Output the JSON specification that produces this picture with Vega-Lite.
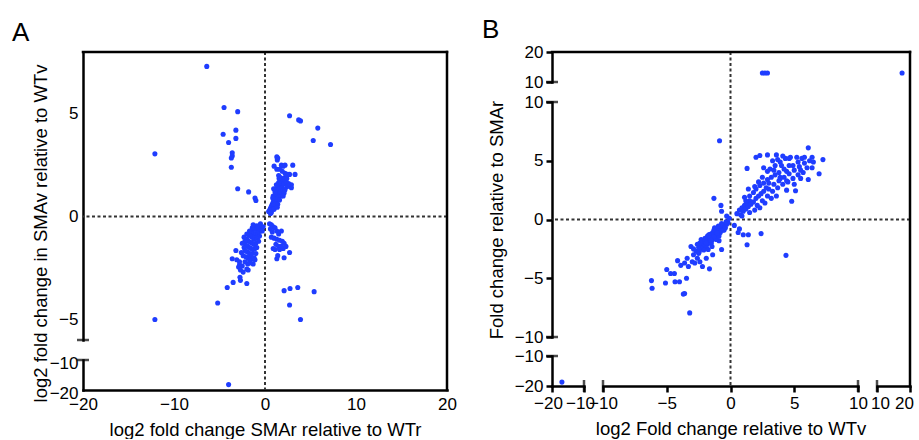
{
  "$schema": "https://vega.github.io/schema/vega-lite/v6.json",
  "padding": {"left": 12, "top": 17, "right": 5, "bottom": 0},
  "spacing": 25,
  "config": {
    "view": {"stroke": null},
    "font": "Liberation Sans",
    "axis": {"labelFont": "Liberation Sans", "titleFont": "Liberation Sans", "labelFontSize": 17, "titleFontSize": 18.5, "titleFontWeight": "normal", "labelColor": "#000", "titleColor": "#000", "domainColor": "#000", "domainWidth": 2.5, "domainCap": "square", "tickColor": "#000", "tickWidth": 2.5, "tickSize": 6, "grid": false, "labelOverlap": false, "labelFlush": false},
    "title": {"font": "Liberation Sans", "fontWeight": "normal", "fontSize": 26, "color": "#000"}
  },
  "datasets": {
    "a": [
      {"x":-6.4,"y":7.3},{"x":-4.5,"y":5.3},{"x":-3.0,"y":5.1},{"x":-4.6,"y":4.0},{"x":-3.2,"y":4.2},{"x":-4.0,"y":3.6},{"x":-3.2,"y":3.8},{"x":-3.6,"y":3.1},{"x":-3.6,"y":2.95},{"x":-3.7,"y":2.85},{"x":-3.7,"y":2.4},{"x":-12.1,"y":3.05},{"x":-3.0,"y":1.35},{"x":-1.8,"y":1.2},{"x":-1.1,"y":0.9},{"x":-1.0,"y":0.78},{"x":2.7,"y":4.9},{"x":3.7,"y":4.7},{"x":3.9,"y":4.65},{"x":5.8,"y":4.3},{"x":5.3,"y":3.7},{"x":7.2,"y":3.5},{"x":-12.1,"y":-5.0},{"x":-5.2,"y":-4.2},{"x":-4.0,"y":-18.2},{"x":2.1,"y":-3.6},{"x":2.75,"y":-3.5},{"x":3.6,"y":-3.45},{"x":5.4,"y":-3.65},{"x":2.7,"y":-4.3},{"x":3.9,"y":-5.0},{"x":-4.15,"y":-3.45},{"x":-3.5,"y":-3.2},{"x":-2.75,"y":-2.95},{"x":-2.0,"y":-3.25},{"x":-2.7,"y":-3.1},{"x":-3.6,"y":-2.05},{"x":-3.2,"y":-1.65},{"x":-2.9,"y":-2.45},{"x":-2.8,"y":-2.35},
      {"x":1.3,"y":2.9},{"x":1.35,"y":2.75},{"x":1.4,"y":2.85},{"x":1.0,"y":2.45},{"x":1.8,"y":2.5},{"x":2.0,"y":2.45},{"x":3.05,"y":2.5},{"x":3.3,"y":2.05},{"x":2.7,"y":2.05},{"x":2.2,"y":2.1},{"x":1.3,"y":2.3},{"x":1.6,"y":2.3},{"x":2.9,"y":1.55},{"x":2.9,"y":1.4},{"x":2.5,"y":1.5},{"x":2.2,"y":1.9},{"x":2.0,"y":1.85},{"x":1.9,"y":1.7},{"x":1.8,"y":1.6},{"x":1.7,"y":1.5},{"x":1.6,"y":1.4},{"x":1.5,"y":1.3},{"x":1.4,"y":1.2},{"x":1.3,"y":1.1},{"x":1.2,"y":1.0},{"x":1.1,"y":0.9},{"x":1.0,"y":0.8},{"x":0.9,"y":0.7},{"x":0.8,"y":0.6},{"x":0.7,"y":0.5},{"x":0.6,"y":0.4},{"x":0.5,"y":0.3},{"x":0.4,"y":0.25},{"x":1.9,"y":1.4},{"x":2.1,"y":1.6},{"x":2.3,"y":1.7},{"x":1.6,"y":1.1},{"x":1.5,"y":0.95},{"x":1.2,"y":0.7},{"x":1.0,"y":0.55},{"x":0.8,"y":0.35},{"x":1.7,"y":1.2},{"x":2.0,"y":1.3},{"x":2.4,"y":1.45},{"x":2.1,"y":1.15},{"x":1.3,"y":1.4},{"x":1.1,"y":1.2},{"x":0.9,"y":1.0},{"x":1.5,"y":1.65},{"x":1.7,"y":1.9},{"x":1.2,"y":0.85},{"x":0.7,"y":0.2},{"x":1.4,"y":0.6},{"x":1.8,"y":1.0},{"x":2.2,"y":1.3},{"x":2.6,"y":1.6},{"x":1.0,"y":0.35},{"x":1.6,"y":0.8},{"x":2.5,"y":2.05},{"x":2.2,"y":2.5},{"x":1.5,"y":2.0},{"x":1.9,"y":2.2},{"x":0.95,"y":1.35},{"x":1.25,"y":1.55},{"x":2.0,"y":1.0},{"x":1.35,"y":0.45},{"x":0.6,"y":0.15},{"x":0.85,"y":0.9},{"x":1.55,"y":1.85},{"x":2.4,"y":1.85},
      {"x":-0.2,"y":-0.5},{"x":-0.4,"y":-0.5},{"x":-0.6,"y":-0.55},{"x":-0.8,"y":-0.6},{"x":-1.0,"y":-0.55},{"x":-1.2,"y":-0.6},{"x":-0.5,"y":-0.7},{"x":-0.7,"y":-0.75},{"x":-0.9,"y":-0.8},{"x":-1.1,"y":-0.85},{"x":-1.3,"y":-0.8},{"x":-1.5,"y":-0.75},{"x":-0.6,"y":-0.95},{"x":-0.8,"y":-1.0},{"x":-1.0,"y":-1.05},{"x":-1.2,"y":-1.1},{"x":-1.4,"y":-1.0},{"x":-1.6,"y":-0.95},{"x":-1.8,"y":-0.9},{"x":-1.0,"y":-1.3},{"x":-1.2,"y":-1.35},{"x":-1.4,"y":-1.3},{"x":-1.6,"y":-1.25},{"x":-1.8,"y":-1.2},{"x":-2.0,"y":-1.1},{"x":-2.2,"y":-1.2},{"x":-1.1,"y":-1.55},{"x":-1.3,"y":-1.6},{"x":-1.5,"y":-1.55},{"x":-1.7,"y":-1.5},{"x":-1.9,"y":-1.45},{"x":-2.1,"y":-1.4},{"x":-2.3,"y":-1.5},{"x":-1.4,"y":-1.8},{"x":-1.6,"y":-1.85},{"x":-1.8,"y":-1.75},{"x":-2.0,"y":-1.7},{"x":-2.2,"y":-1.65},{"x":-1.2,"y":-2.0},{"x":-1.5,"y":-2.05},{"x":-1.7,"y":-2.1},{"x":-1.9,"y":-2.0},{"x":-2.1,"y":-1.95},{"x":-2.4,"y":-1.9},{"x":-1.3,"y":-2.3},{"x":-1.6,"y":-2.25},{"x":-1.9,"y":-2.3},{"x":-2.2,"y":-2.2},{"x":-2.5,"y":-2.4},{"x":-2.0,"y":-2.55},{"x":-2.7,"y":-2.6},{"x":-2.4,"y":-2.7},{"x":-0.3,"y":-0.7},{"x":-0.9,"y":-0.45},{"x":-1.4,"y":-0.55},{"x":-1.7,"y":-0.7},{"x":-2.0,"y":-0.85},{"x":-2.5,"y":-1.3},{"x":-2.6,"y":-1.75},{"x":-0.7,"y":-1.2},{"x":-0.9,"y":-1.5},{"x":-1.0,"y":-1.8},{"x":-0.5,"y":-0.35},{"x":-1.3,"y":-0.4},{"x":-2.8,"y":-2.2},{"x":-3.1,"y":-2.1},{"x":-2.3,"y":-1.0},{"x":-1.85,"y":-2.6},{"x":-1.1,"y":-2.1},
      {"x":0.5,"y":-0.35},{"x":0.7,"y":-0.4},{"x":0.9,"y":-0.5},{"x":1.1,"y":-0.55},{"x":0.6,"y":-0.6},{"x":1.3,"y":-0.7},{"x":1.8,"y":-0.7},{"x":1.5,"y":-0.85},{"x":0.7,"y":-1.0},{"x":1.0,"y":-1.05},{"x":1.3,"y":-1.1},{"x":1.6,"y":-1.15},{"x":1.9,"y":-1.2},{"x":2.1,"y":-1.3},{"x":1.2,"y":-1.35},{"x":1.5,"y":-1.45},{"x":0.9,"y":-1.55},{"x":1.1,"y":-1.6},{"x":1.6,"y":-1.6},{"x":2.0,"y":-1.55},{"x":2.7,"y":-1.75},{"x":1.3,"y":-2.05},{"x":2.1,"y":-2.0},{"x":1.4,"y":-1.9},{"x":0.8,"y":-0.75},{"x":2.3,"y":-1.45},{"x":1.8,"y":-1.45}
    ],
    "b": [
      {"x":-16.9,"y":-18.7},{"x":2.5,"y":13},{"x":2.7,"y":13},{"x":2.9,"y":13},{"x":17.6,"y":13},
      {"x":-0.86,"y":6.7},{"x":-1.3,"y":1.8},{"x":-0.75,"y":1.2},{"x":-0.7,"y":0.7},{"x":-0.3,"y":0.3},{"x":-0.1,"y":0.1},
      {"x":-6.2,"y":-5.2},{"x":-6.15,"y":-5.85},{"x":-5.1,"y":-5.4},{"x":-5.0,"y":-4.25},{"x":-4.7,"y":-4.6},{"x":-4.4,"y":-4.6},{"x":-4.0,"y":-5.3},{"x":-4.35,"y":-5.3},{"x":-3.7,"y":-6.35},{"x":-3.6,"y":-6.3},{"x":-3.2,"y":-7.95},{"x":-3.45,"y":-5.0},{"x":-4.15,"y":-3.5},{"x":-3.6,"y":-3.7},{"x":-3.4,"y":-3.3},{"x":-3.1,"y":-2.3},{"x":-2.8,"y":-3.7},{"x":-2.2,"y":-4.0},{"x":-1.65,"y":-4.2},{"x":-0.7,"y":-2.55},{"x":-3.9,"y":-3.9},{"x":-3.3,"y":-4.0},{"x":-2.6,"y":-3.3},{"x":-2.9,"y":-3.0},{"x":-3.0,"y":-3.6},{"x":-2.4,"y":-3.6},{"x":-1.9,"y":-3.3},{"x":-2.5,"y":-2.9},{"x":-1.4,"y":-3.0},{"x":-0.9,"y":-1.8},
      {"x":-2.7,"y":-2.7},{"x":-2.5,"y":-2.4},{"x":-2.3,"y":-2.2},{"x":-2.1,"y":-2.0},{"x":-1.9,"y":-1.8},{"x":-1.7,"y":-1.6},{"x":-1.5,"y":-1.4},{"x":-1.3,"y":-1.2},{"x":-1.1,"y":-1.0},{"x":-0.9,"y":-0.85},{"x":-0.7,"y":-0.7},{"x":-0.5,"y":-0.55},{"x":-0.3,"y":-0.4},{"x":-2.4,"y":-2.0},{"x":-2.2,"y":-1.8},{"x":-2.0,"y":-1.6},{"x":-1.8,"y":-1.4},{"x":-1.6,"y":-1.25},{"x":-1.4,"y":-1.1},{"x":-1.2,"y":-0.95},{"x":-1.0,"y":-0.75},{"x":-0.8,"y":-0.6},{"x":-0.6,"y":-0.45},{"x":-2.2,"y":-2.5},{"x":-2.0,"y":-2.3},{"x":-1.8,"y":-2.1},{"x":-1.6,"y":-1.9},{"x":-1.4,"y":-1.7},{"x":-1.2,"y":-1.5},{"x":-1.0,"y":-1.3},{"x":-0.8,"y":-1.1},{"x":-0.6,"y":-0.9},{"x":-2.6,"y":-2.1},{"x":-1.9,"y":-2.4},{"x":-1.5,"y":-2.0},{"x":-1.1,"y":-1.7},{"x":-0.9,"y":-1.4},{"x":-2.3,"y":-1.7},{"x":-1.7,"y":-1.3},{"x":-1.3,"y":-0.9},{"x":-0.7,"y":-0.35},{"x":-2.9,"y":-2.5},{"x":-2.0,"y":-1.9},{"x":-1.6,"y":-1.55},{"x":-1.3,"y":-1.45},{"x":-1.9,"y":-2.0},{"x":-2.1,"y":-2.6},{"x":-1.75,"y":-2.55},{"x":-1.45,"y":-2.3},{"x":-0.5,"y":-0.9},{"x":-0.4,"y":-0.7},{"x":-0.2,"y":-0.25},{"x":-0.35,"y":-0.2},{"x":-1.05,"y":-1.15},{"x":-1.55,"y":-1.75},{"x":-2.45,"y":-2.75},{"x":-0.95,"y":-0.55},{"x":-1.25,"y":-0.7},
      {"x":0.6,"y":-1.1},{"x":0.7,"y":-0.8},{"x":1.0,"y":-1.3},{"x":1.4,"y":-1.3},{"x":1.3,"y":-2.15},{"x":2.4,"y":-1.2},{"x":4.35,"y":-3.05},{"x":0.3,"y":-0.5},
      {"x":0.5,"y":0.5},{"x":0.7,"y":0.8},{"x":0.9,"y":1.0},{"x":1.1,"y":1.2},{"x":1.3,"y":1.4},{"x":1.5,"y":1.6},{"x":0.8,"y":0.4},{"x":1.0,"y":0.7},{"x":1.2,"y":0.9},{"x":1.4,"y":1.1},{"x":1.6,"y":1.3},{"x":1.8,"y":1.5},{"x":2.0,"y":1.8},{"x":2.2,"y":2.0},{"x":2.4,"y":2.2},{"x":2.6,"y":2.4},{"x":1.2,"y":1.6},{"x":1.5,"y":2.0},{"x":1.8,"y":2.3},{"x":2.0,"y":2.6},{"x":2.3,"y":2.9},{"x":2.6,"y":3.1},{"x":2.9,"y":3.4},{"x":3.2,"y":3.6},{"x":3.5,"y":3.8},{"x":3.8,"y":4.0},{"x":2.1,"y":1.2},{"x":2.5,"y":1.6},{"x":2.9,"y":2.0},{"x":3.3,"y":2.4},{"x":3.7,"y":2.7},{"x":4.1,"y":3.0},{"x":4.5,"y":3.2},{"x":4.9,"y":3.5},{"x":5.3,"y":3.8},{"x":5.7,"y":4.0},{"x":3.0,"y":2.6},{"x":3.4,"y":3.0},{"x":3.8,"y":3.3},{"x":4.2,"y":3.6},{"x":4.6,"y":3.9},{"x":5.0,"y":4.2},{"x":5.4,"y":4.5},{"x":5.8,"y":4.8},{"x":6.2,"y":5.0},{"x":3.1,"y":4.3},{"x":3.5,"y":4.6},{"x":3.9,"y":4.9},{"x":4.3,"y":5.2},{"x":4.7,"y":5.3},{"x":2.3,"y":5.45},{"x":2.0,"y":5.3},{"x":2.9,"y":5.5},{"x":3.6,"y":5.5},{"x":4.1,"y":5.4},{"x":4.6,"y":5.2},{"x":5.2,"y":5.3},{"x":5.6,"y":5.2},{"x":6.1,"y":6.1},{"x":7.25,"y":5.1},{"x":6.95,"y":3.9},{"x":6.1,"y":3.4},{"x":4.8,"y":1.55},{"x":5.1,"y":2.45},{"x":4.4,"y":2.5},{"x":3.9,"y":3.6},{"x":1.3,"y":4.35},{"x":1.4,"y":2.6},{"x":1.1,"y":1.9},{"x":2.6,"y":4.4},{"x":2.9,"y":4.1},{"x":3.3,"y":5.0},{"x":4.0,"y":4.6},{"x":4.4,"y":4.1},{"x":4.9,"y":4.6},{"x":5.5,"y":4.2},{"x":6.4,"y":5.3},{"x":6.5,"y":4.9},{"x":6.0,"y":4.4},{"x":5.5,"y":3.5},{"x":5.0,"y":3.0},{"x":3.6,"y":2.0},{"x":3.2,"y":1.8},{"x":2.7,"y":1.4},{"x":2.3,"y":1.0},{"x":1.9,"y":0.8},{"x":1.5,"y":0.6},{"x":0.9,"y":0.3},{"x":2.2,"y":3.2},{"x":2.5,"y":3.6},{"x":1.9,"y":2.8},{"x":3.4,"y":4.2},{"x":3.7,"y":5.1},{"x":4.2,"y":4.3},{"x":4.6,"y":4.6},{"x":5.3,"y":4.9},{"x":2.8,"y":2.7},{"x":3.0,"y":3.1},{"x":3.9,"y":3.5},{"x":4.4,"y":3.3},{"x":5.8,"y":5.3},{"x":6.4,"y":4.4}
    ]
  },
  "hconcat": [
    {
      "width": 364,
      "height": 338,
      "title": {"text": "A", "anchor": "start", "frame": "group", "dx": -71, "offset": -17, "baseline": "alphabetic"},
      "resolve": {"scale": {"x": "independent", "y": "independent"}, "axis": {"x": "independent", "y": "independent"}},
      "layer": [
        {"data": {"values": [{}]}, "mark": {"type": "rule", "color": "#333", "strokeWidth": 2, "strokeDash": [3, 2.5]},
         "encoding": {"x": {"datum": 0, "type": "quantitative", "scale": {"domain": [-20, 20], "range": [0, 364], "nice": false, "zero": false}, "axis": null}}},
        {"data": {"values": [{}]}, "mark": {"type": "rule", "color": "#333", "strokeWidth": 2, "strokeDash": [3, 2.5]},
         "encoding": {"y": {"datum": 0, "type": "quantitative", "scale": {"domain": [-6, 8], "range": [288, 0], "nice": false, "zero": false}, "axis": null}}},
        {"data": {"values": [{}]}, "mark": {"type": "rule", "color": "#000", "strokeWidth": 2.5, "strokeCap": "square"},
         "encoding": {"y": {"datum": 8, "type": "quantitative", "scale": {"domain": [-6, 8], "range": [288, 0], "nice": false, "zero": false}, "axis": null}}},
        {"data": {"values": [{}]}, "mark": {"type": "rule", "color": "#000", "strokeWidth": 2.5, "strokeCap": "square"},
         "encoding": {"x": {"datum": 20, "type": "quantitative", "scale": {"domain": [-20, 20], "range": [0, 364], "nice": false, "zero": false}, "axis": null}}},
        {"data": {"name": "a"}, "transform": [{"filter": "datum.y >= -6"}],
         "mark": {"type": "circle", "size": 26, "color": "#1f3dff", "opacity": 1},
         "encoding": {
           "x": {"field": "x", "type": "quantitative", "scale": {"domain": [-20, 20], "range": [0, 364], "nice": false, "zero": false},
                 "axis": {"orient": "bottom", "values": [-20, -10, 0, 10, 20], "ticks": false, "labelPadding": 6, "title": "log2 fold change SMAr relative to WTr", "titlePadding": 8}},
           "y": {"field": "y", "type": "quantitative", "scale": {"domain": [-6, 8], "range": [288, 0], "nice": false, "zero": false},
                 "axis": {"orient": "left", "values": [-5, 0, 5], "ticks": false, "labelPadding": 5, "title": "log2 fold change in SMAv relative to WTv", "titleY": 181, "titlePadding": 8}}
         }},
        {"data": {"name": "a"}, "transform": [{"filter": "datum.y < -6"}],
         "mark": {"type": "circle", "size": 26, "color": "#1f3dff", "opacity": 1},
         "encoding": {
           "x": {"field": "x", "type": "quantitative", "scale": {"domain": [-20, 20], "range": [0, 364], "nice": false, "zero": false}, "axis": null},
           "y": {"field": "y", "type": "quantitative", "scale": {"domain": [-20, -10], "range": [338, 308], "nice": false, "zero": false},
                 "axis": {"orient": "left", "values": [-20, -10], "ticks": false, "labelPadding": 5, "labelOffset": 3, "title": null}}
         }},
        {"data": {"values": [{}]}, "mark": {"type": "tick", "orient": "horizontal", "size": 12, "thickness": 2.5, "color": "#000"},
         "encoding": {"x": {"datum": -20, "type": "quantitative", "scale": {"domain": [-20, 20], "range": [0, 364], "nice": false, "zero": false}, "axis": null},
                      "y": {"datum": -6, "type": "quantitative", "scale": {"domain": [-6, 8], "range": [288, 0], "nice": false, "zero": false}, "axis": null}}},
        {"data": {"values": [{}]}, "mark": {"type": "tick", "orient": "horizontal", "size": 12, "thickness": 2.5, "color": "#000"},
         "encoding": {"x": {"datum": -20, "type": "quantitative", "scale": {"domain": [-20, 20], "range": [0, 364], "nice": false, "zero": false}, "axis": null},
                      "y": {"datum": -10, "type": "quantitative", "scale": {"domain": [-20, -10], "range": [338, 308], "nice": false, "zero": false}, "axis": null}}}
      ]
    },
    {
      "width": 358,
      "height": 334,
      "title": {"text": "B", "anchor": "start", "frame": "group", "dx": -70, "offset": -21, "baseline": "alphabetic"},
      "resolve": {"scale": {"x": "independent", "y": "independent"}, "axis": {"x": "independent", "y": "independent"}},
      "layer": [
        {"data": {"values": [{}]}, "mark": {"type": "rule", "color": "#333", "strokeWidth": 2, "strokeDash": [3, 2.5]},
         "encoding": {"x": {"datum": 0, "type": "quantitative", "scale": {"domain": [-10, 10], "range": [51, 306], "nice": false, "zero": false}, "axis": null}}},
        {"data": {"values": [{}]}, "mark": {"type": "rule", "color": "#333", "strokeWidth": 2, "strokeDash": [3, 2.5]},
         "encoding": {"y": {"datum": 0, "type": "quantitative", "scale": {"domain": [-10, 10], "range": [285, 50], "nice": false, "zero": false}, "axis": null}}},
        {"data": {"values": [{}]}, "mark": {"type": "rule", "color": "#000", "strokeWidth": 2.5, "strokeCap": "square"},
         "encoding": {"y": {"datum": 20, "type": "quantitative", "scale": {"domain": [10, 20], "range": [30, 0], "nice": false, "zero": false}, "axis": null}}},
        {"data": {"values": [{}]}, "mark": {"type": "rule", "color": "#000", "strokeWidth": 2.5, "strokeCap": "square"},
         "encoding": {"x": {"datum": 20, "type": "quantitative", "scale": {"domain": [10, 20], "range": [325, 358], "nice": false, "zero": false}, "axis": null}}},
        {"data": {"name": "b"}, "transform": [{"filter": "datum.x >= -10 && datum.x <= 10 && datum.y >= -10 && datum.y <= 10"}],
         "mark": {"type": "circle", "size": 26, "color": "#1f3dff", "opacity": 1},
         "encoding": {
           "x": {"field": "x", "type": "quantitative", "scale": {"domain": [-10, 10], "range": [51, 306], "nice": false, "zero": false},
                 "axis": {"orient": "bottom", "values": [-10, -5, 0, 5, 10], "labelPadding": 3, "title": "log2 Fold change relative to WTv", "titlePadding": 8}},
           "y": {"field": "y", "type": "quantitative", "scale": {"domain": [-10, 10], "range": [285, 50], "nice": false, "zero": false},
                 "axis": {"orient": "left", "values": [-10, -5, 0, 5, 10], "labelPadding": 3, "title": "Fold change relative to SMAr", "titlePadding": 8}}
         }},
        {"data": {"name": "b"}, "transform": [{"filter": "datum.x >= -10 && datum.x <= 10 && datum.y > 10"}],
         "mark": {"type": "circle", "size": 26, "color": "#1f3dff", "opacity": 1},
         "encoding": {
           "x": {"field": "x", "type": "quantitative", "scale": {"domain": [-10, 10], "range": [51, 306], "nice": false, "zero": false}, "axis": null},
           "y": {"field": "y", "type": "quantitative", "scale": {"domain": [10, 20], "range": [30, 0], "nice": false, "zero": false},
                 "axis": {"orient": "left", "values": [10, 20], "labelPadding": 3, "title": null}}
         }},
        {"data": {"name": "b"}, "transform": [{"filter": "datum.x > 10 && datum.y > 10"}],
         "mark": {"type": "circle", "size": 26, "color": "#1f3dff", "opacity": 1},
         "encoding": {
           "x": {"field": "x", "type": "quantitative", "scale": {"domain": [10, 20], "range": [325, 358], "nice": false, "zero": false},
                 "axis": {"orient": "bottom", "values": [10, 20], "labelPadding": 3, "labelOffset": {"condition": {"test": "datum.value == 20", "value": -6}, "value": 3}, "title": null}},
           "y": {"field": "y", "type": "quantitative", "scale": {"domain": [10, 20], "range": [30, 0], "nice": false, "zero": false}, "axis": null}
         }},
        {"data": {"name": "b"}, "transform": [{"filter": "datum.x < -10 && datum.y < -10"}],
         "mark": {"type": "circle", "size": 26, "color": "#1f3dff", "opacity": 1},
         "encoding": {
           "x": {"field": "x", "type": "quantitative", "scale": {"domain": [-20, -10], "range": [0, 32], "nice": false, "zero": false},
                 "axis": {"orient": "bottom", "values": [-20, -10], "labelPadding": 3, "labelOffset": -4, "title": null}},
           "y": {"field": "y", "type": "quantitative", "scale": {"domain": [-20, -10], "range": [334, 304], "nice": false, "zero": false},
                 "axis": {"orient": "left", "values": [-20, -10], "labelPadding": 3, "title": null}}
         }},
        {"data": {"values": [{}]}, "mark": {"type": "tick", "orient": "horizontal", "size": 12, "thickness": 2.5, "color": "#000"},
         "encoding": {"x": {"datum": -20, "type": "quantitative", "scale": {"domain": [-20, -10], "range": [0, 32], "nice": false, "zero": false}, "axis": null},
                      "y": {"datum": 10, "type": "quantitative", "scale": {"domain": [10, 20], "range": [30, 0], "nice": false, "zero": false}, "axis": null}}},
        {"data": {"values": [{}]}, "mark": {"type": "tick", "orient": "horizontal", "size": 12, "thickness": 2.5, "color": "#000"},
         "encoding": {"x": {"datum": -20, "type": "quantitative", "scale": {"domain": [-20, -10], "range": [0, 32], "nice": false, "zero": false}, "axis": null},
                      "y": {"datum": 10, "type": "quantitative", "scale": {"domain": [-10, 10], "range": [285, 50], "nice": false, "zero": false}, "axis": null}}},
        {"data": {"values": [{}]}, "mark": {"type": "tick", "orient": "horizontal", "size": 12, "thickness": 2.5, "color": "#000"},
         "encoding": {"x": {"datum": -20, "type": "quantitative", "scale": {"domain": [-20, -10], "range": [0, 32], "nice": false, "zero": false}, "axis": null},
                      "y": {"datum": -10, "type": "quantitative", "scale": {"domain": [-10, 10], "range": [285, 50], "nice": false, "zero": false}, "axis": null}}},
        {"data": {"values": [{}]}, "mark": {"type": "tick", "orient": "horizontal", "size": 12, "thickness": 2.5, "color": "#000"},
         "encoding": {"x": {"datum": -20, "type": "quantitative", "scale": {"domain": [-20, -10], "range": [0, 32], "nice": false, "zero": false}, "axis": null},
                      "y": {"datum": -10, "type": "quantitative", "scale": {"domain": [-20, -10], "range": [334, 304], "nice": false, "zero": false}, "axis": null}}},
        {"data": {"values": [{}]}, "mark": {"type": "tick", "orient": "vertical", "size": 12, "thickness": 2.5, "color": "#000"},
         "encoding": {"x": {"datum": -10, "type": "quantitative", "scale": {"domain": [-20, -10], "range": [0, 32], "nice": false, "zero": false}, "axis": null},
                      "y": {"datum": -20, "type": "quantitative", "scale": {"domain": [-20, -10], "range": [334, 304], "nice": false, "zero": false}, "axis": null}}},
        {"data": {"values": [{}]}, "mark": {"type": "tick", "orient": "vertical", "size": 12, "thickness": 2.5, "color": "#000"},
         "encoding": {"x": {"datum": -10, "type": "quantitative", "scale": {"domain": [-10, 10], "range": [51, 306], "nice": false, "zero": false}, "axis": null},
                      "y": {"datum": -20, "type": "quantitative", "scale": {"domain": [-20, -10], "range": [334, 304], "nice": false, "zero": false}, "axis": null}}},
        {"data": {"values": [{}]}, "mark": {"type": "tick", "orient": "vertical", "size": 12, "thickness": 2.5, "color": "#000"},
         "encoding": {"x": {"datum": 10, "type": "quantitative", "scale": {"domain": [-10, 10], "range": [51, 306], "nice": false, "zero": false}, "axis": null},
                      "y": {"datum": -20, "type": "quantitative", "scale": {"domain": [-20, -10], "range": [334, 304], "nice": false, "zero": false}, "axis": null}}},
        {"data": {"values": [{}]}, "mark": {"type": "tick", "orient": "vertical", "size": 12, "thickness": 2.5, "color": "#000"},
         "encoding": {"x": {"datum": 10, "type": "quantitative", "scale": {"domain": [10, 20], "range": [325, 358], "nice": false, "zero": false}, "axis": null},
                      "y": {"datum": -20, "type": "quantitative", "scale": {"domain": [-20, -10], "range": [334, 304], "nice": false, "zero": false}, "axis": null}}}
      ]
    }
  ]
}
